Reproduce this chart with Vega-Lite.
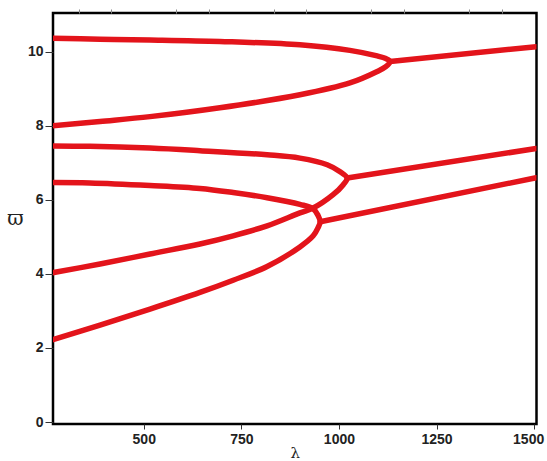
{
  "$schema": "https://vega.github.io/schema/vega-lite/v6.json",
  "width": 483.5,
  "height": 411,
  "autosize": {"type": "none"},
  "padding": {"left": 53, "top": 13, "right": 10.5, "bottom": 37},
  "background": "white",
  "config": {
    "view": {"stroke": "#000000", "strokeWidth": 2.5},
    "axis": {
      "labelFont": "Liberation Sans",
      "labelFontWeight": "bold",
      "labelFontSize": 14,
      "labelColor": "#222222",
      "tickColor": "#333333",
      "domain": false,
      "grid": false
    }
  },
  "data": {
    "values": [
      {"s": "g1", "o": 1, "x": 265, "y": 10.37},
      {"s": "g1", "o": 2, "x": 388, "y": 10.34},
      {"s": "g1", "o": 3, "x": 516, "y": 10.32},
      {"s": "g1", "o": 4, "x": 695, "y": 10.28},
      {"s": "g1", "o": 5, "x": 900, "y": 10.19},
      {"s": "g1", "o": 6, "x": 1028, "y": 10.04},
      {"s": "g1", "o": 7, "x": 1098, "y": 9.89},
      {"s": "g1", "o": 8, "x": 1120, "y": 9.82},
      {"s": "g1", "o": 9, "x": 1131, "y": 9.74},
      {"s": "g1", "o": 10, "x": 1120, "y": 9.6},
      {"s": "g1", "o": 11, "x": 1098, "y": 9.47},
      {"s": "g1", "o": 12, "x": 1028, "y": 9.16},
      {"s": "g1", "o": 13, "x": 900, "y": 8.84},
      {"s": "g1", "o": 14, "x": 695, "y": 8.49},
      {"s": "g1", "o": 15, "x": 516, "y": 8.25},
      {"s": "g1", "o": 16, "x": 388, "y": 8.12},
      {"s": "g1", "o": 17, "x": 265, "y": 8.0},
      {"s": "g2", "o": 1, "x": 265, "y": 7.46},
      {"s": "g2", "o": 2, "x": 362, "y": 7.45},
      {"s": "g2", "o": 3, "x": 516, "y": 7.4},
      {"s": "g2", "o": 4, "x": 644, "y": 7.33},
      {"s": "g2", "o": 5, "x": 816, "y": 7.22},
      {"s": "g2", "o": 6, "x": 900, "y": 7.13},
      {"s": "g2", "o": 7, "x": 970, "y": 6.95},
      {"s": "g2", "o": 8, "x": 1003, "y": 6.76},
      {"s": "g2", "o": 9, "x": 1021, "y": 6.59},
      {"s": "g2", "o": 10, "x": 1011, "y": 6.41},
      {"s": "g2", "o": 11, "x": 985, "y": 6.14},
      {"s": "g2", "o": 12, "x": 934, "y": 5.78},
      {"s": "g2", "o": 13, "x": 900, "y": 5.65},
      {"s": "g2", "o": 14, "x": 816, "y": 5.3},
      {"s": "g2", "o": 15, "x": 729, "y": 5.03},
      {"s": "g2", "o": 16, "x": 644, "y": 4.81},
      {"s": "g2", "o": 17, "x": 516, "y": 4.54},
      {"s": "g2", "o": 18, "x": 388, "y": 4.27},
      {"s": "g2", "o": 19, "x": 265, "y": 4.03},
      {"s": "g3", "o": 1, "x": 265, "y": 6.47},
      {"s": "g3", "o": 2, "x": 362, "y": 6.46},
      {"s": "g3", "o": 3, "x": 516, "y": 6.39},
      {"s": "g3", "o": 4, "x": 644, "y": 6.31},
      {"s": "g3", "o": 5, "x": 729, "y": 6.2},
      {"s": "g3", "o": 6, "x": 816, "y": 6.06},
      {"s": "g3", "o": 7, "x": 900, "y": 5.88},
      {"s": "g3", "o": 8, "x": 934, "y": 5.76},
      {"s": "g3", "o": 9, "x": 946.5, "y": 5.58},
      {"s": "g3", "o": 10, "x": 952, "y": 5.41},
      {"s": "g3", "o": 11, "x": 946.5, "y": 5.25},
      {"s": "g3", "o": 12, "x": 934, "y": 5.03},
      {"s": "g3", "o": 13, "x": 900, "y": 4.73},
      {"s": "g3", "o": 14, "x": 816, "y": 4.2},
      {"s": "g3", "o": 15, "x": 729, "y": 3.83},
      {"s": "g3", "o": 16, "x": 644, "y": 3.5},
      {"s": "g3", "o": 17, "x": 516, "y": 3.05},
      {"s": "g3", "o": 18, "x": 388, "y": 2.62},
      {"s": "g3", "o": 19, "x": 265, "y": 2.22},
      {"s": "r1", "o": 1, "x": 1131, "y": 9.74},
      {"s": "r1", "o": 2, "x": 1505, "y": 10.14},
      {"s": "r2", "o": 1, "x": 1021, "y": 6.59},
      {"s": "r2", "o": 2, "x": 1505, "y": 7.39},
      {"s": "r3", "o": 1, "x": 952, "y": 5.41},
      {"s": "r3", "o": 2, "x": 1505, "y": 6.6}
    ]
  },
  "layer": [
    {
      "mark": {"type": "line", "color": "#e3141b", "strokeWidth": 5.5, "interpolate": "catmull-rom", "clip": true, "strokeCap": "round", "strokeJoin": "round"},
      "encoding": {
        "x": {
          "field": "x", "type": "quantitative",
          "scale": {"domain": [267.6, 1506], "nice": false, "zero": false},
          "axis": {
            "values": [500, 750, 1000, 1250, 1500],
            "format": "d",
            "tickSize": 5,
            "labelPadding": 3,
            "labelFlush": false,
            "labelOffset": {"expr": "datum.value == 1500 ? -6 : 0"},
            "title": "λ",
            "titleFont": "DejaVu Serif",
            "titleFontSize": 15,
            "titleFontWeight": "normal",
            "titleColor": "#222222",
            "titleBaseline": "top",
            "titleY": 21
          }
        },
        "y": {
          "field": "y", "type": "quantitative",
          "scale": {"domain": [-0.054, 11.05], "nice": false},
          "axis": {
            "values": [0, 2, 4, 6, 8, 10],
            "tickSize": 8,
            "labelPadding": 2,
            "title": "ϖ",
            "titleAngle": 0,
            "titleFont": "DejaVu Serif",
            "titleFontSize": 20,
            "titleFontWeight": "normal",
            "titleColor": "#222222",
            "titleAlign": "center",
            "titleBaseline": "middle",
            "titleX": -38,
            "titleY": 205
          }
        },
        "detail": {"field": "s"},
        "order": {"field": "o", "type": "quantitative"}
      }
    },
    {
      "mark": {"type": "rule", "opacity": 0},
      "encoding": {
        "x": {
          "field": "x", "type": "quantitative",
          "axis": {
            "values": [333.33, 416.67, 583.33, 666.67, 833.33, 916.67, 1083.33, 1166.67, 1333.33, 1416.67],
            "tickSize": 4,
            "tickColor": "#888888",
            "labels": false,
            "title": null
          }
        }
      }
    }
  ],
  "resolve": {"axis": {"x": "independent"}}
}
